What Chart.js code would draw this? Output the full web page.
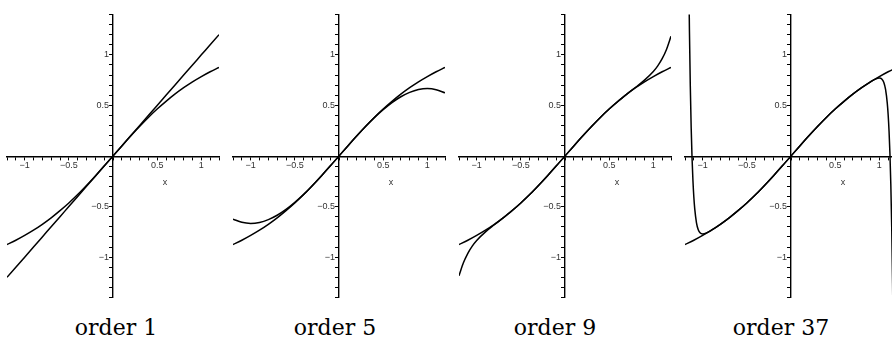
<!DOCTYPE html>
<html>
<head>
<meta charset="utf-8">
<script src="https://cdn.jsdelivr.net/npm/chart.js@4.4.1/dist/chart.umd.min.js"></script>
<style>
  html, body { margin: 0; padding: 0; background: #fff; }
  body { width: 892px; height: 341px; position: relative; overflow: hidden; }
  .panel { position: absolute; top: 8px; width: 214px; height: 296px; }
  .panel canvas { display: block; }
  .title {
    position: absolute; top: 315px; width: 200px; text-align: center;
    font-family: "DejaVu Serif", serif; font-size: 22px; line-height: 26px; color: #000;
  }
</style>
</head>
<body>
<div class="panel" style="left:6px"><canvas id="c1" width="214" height="296"></canvas></div>
<div class="panel" style="left:232px"><canvas id="c2" width="214" height="296"></canvas></div>
<div class="panel" style="left:458px"><canvas id="c3" width="214" height="296"></canvas></div>
<div class="panel" style="left:684px"><canvas id="c4" width="214" height="296"></canvas></div>
<div class="title" style="left:16px">order 1</div>
<div class="title" style="left:235px">order 5</div>
<div class="title" style="left:455px">order 9</div>
<div class="title" style="left:681px">order 37</div>

<script>
// x values shared by the smooth curves
const xGrid = [-1.2, -1.1, -1.0, -0.9, -0.8, -0.7, -0.6, -0.5, -0.4, -0.3, -0.2, -0.1, 0,
  0.1, 0.2, 0.3, 0.4, 0.5, 0.6, 0.7, 0.8, 0.9, 1.0, 1.1, 1.2];

// the function being approximated (same curve in every panel)
const exactY = [-0.876, -0.833, -0.785, -0.733, -0.675, -0.611, -0.540, -0.464, -0.381, -0.291, -0.197, -0.100, 0,
  0.100, 0.197, 0.291, 0.381, 0.464, 0.540, 0.611, 0.675, 0.733, 0.785, 0.833, 0.876];

// order 1 : straight line
const order1Y = [-1.2, -1.1, -1.0, -0.9, -0.8, -0.7, -0.6, -0.5, -0.4, -0.3, -0.2, -0.1, 0,
  0.1, 0.2, 0.3, 0.4, 0.5, 0.6, 0.7, 0.8, 0.9, 1.0, 1.1, 1.2];

// order 5
const order5Y = [-0.624, -0.656, -0.667, -0.657, -0.629, -0.586, -0.528, -0.458, -0.379, -0.291, -0.197, -0.100, 0,
  0.100, 0.197, 0.291, 0.379, 0.458, 0.528, 0.586, 0.629, 0.657, 0.667, 0.656, 0.624];

// order 9
const order9X = [-1.2, -1.15, -1.1, -1.05, -1.0, -0.9, -0.8, -0.7, -0.6, -0.5, -0.4, -0.3, -0.2, -0.1, 0,
  0.1, 0.2, 0.3, 0.4, 0.5, 0.6, 0.7, 0.8, 0.9, 1.0, 1.05, 1.1, 1.15, 1.2];
const order9Y = [-1.183, -1.056, -0.962, -0.891, -0.835, -0.750, -0.680, -0.612, -0.541, -0.464, -0.381, -0.291, -0.197, -0.100, 0,
  0.100, 0.197, 0.291, 0.381, 0.464, 0.541, 0.612, 0.680, 0.750, 0.835, 0.891, 0.962, 1.056, 1.183];

// order 37 (blows up just past |x| = 1)
const order37X = [-1.16, -1.15, -1.14, -1.13, -1.12, -1.11, -1.10, -1.09, -1.07, -1.05, -1.03, -1.0, -0.95, -0.9,
  -0.8, -0.7, -0.6, -0.5, -0.4, -0.3, -0.2, -0.1, 0, 0.1, 0.2, 0.3, 0.4, 0.5, 0.6, 0.7, 0.8,
  0.9, 0.95, 1.0, 1.03, 1.05, 1.07, 1.09, 1.10, 1.11, 1.12, 1.13, 1.14, 1.15, 1.16];
const order37Y = [2.02, 1.256, 0.692, 0.279, -0.024, -0.245, -0.405, -0.520, -0.660, -0.729, -0.760, -0.772, -0.758, -0.733,
  -0.675, -0.611, -0.540, -0.464, -0.381, -0.291, -0.197, -0.100, 0, 0.100, 0.197, 0.291, 0.381, 0.464, 0.540, 0.611, 0.675,
  0.733, 0.758, 0.772, 0.760, 0.729, 0.660, 0.520, 0.405, 0.245, 0.024, -0.279, -0.692, -1.256, -2.02];

const tickFont = { family: '"Liberation Sans", Arial, sans-serif', size: 9 };

const pts = (xs, ys) => xs.map((x, i) => ({ x: x, y: ys[i] }));

// only every 0.5 gets a label, 0 is left blank
const tickLabel = (v) => {
  if (Math.abs(v) < 1e-9) return '';
  if (Math.abs(v * 2 - Math.round(v * 2)) > 1e-6) return '';
  const s = String(Math.abs(Math.round(v * 10) / 10));
  return v < 0 ? '\u2212' + s : s;
};

// the little "x" name under the axis
const axisName = {
  id: 'axisName',
  afterDraw(chart) {
    const { ctx, scales } = chart;
    const px = scales.x.getPixelForValue(0);
    const py = scales.y.getPixelForValue(0);
    ctx.save();
    ctx.font = '9px "Liberation Sans", Arial, sans-serif';
    ctx.fillStyle = '#333';
    ctx.textAlign = 'center';
    ctx.textBaseline = 'middle';
    ctx.fillText('x', px + 52, py + 27);
    ctx.restore();
  }
};

function makePanel(id, approxX, approxY) {
  const line = (data) => ({
    data: data,
    borderColor: '#000',
    borderWidth: 1.5,
    pointRadius: 0,
    fill: false,
    cubicInterpolationMode: 'monotone'
  });

  // ranges are symmetric, so 'center' puts the axes through the origin
  new Chart(document.getElementById(id), {
    type: 'line',
    data: {
      datasets: [
        line(pts(xGrid, exactY)),
        line(pts(approxX, approxY))
      ]
    },
    options: {
      responsive: false,
      animation: false,
      layout: { padding: 0 },
      plugins: { legend: { display: false }, tooltip: { enabled: false } },
      scales: {
        x: {
          type: 'linear',
          min: -1.2,
          max: 1.2,
          position: 'center',
          afterFit: (s) => { s.height = 0; },
          border: { color: '#000', width: 1.4 },
          grid: { drawOnChartArea: false, drawTicks: true, tickLength: 3, color: '#000', tickWidth: 1 },
          ticks: {
            stepSize: 0.1, maxTicksLimit: 100, autoSkip: false, maxRotation: 0,
            padding: 1, font: tickFont, color: '#333', callback: tickLabel
          }
        },
        y: {
          type: 'linear',
          min: -1.4,
          max: 1.4,
          position: 'center',
          afterFit: (s) => { s.width = 0; },
          border: { color: '#000', width: 1.4 },
          grid: { drawOnChartArea: false, drawTicks: true, tickLength: 3, color: '#000', tickWidth: 1 },
          ticks: {
            stepSize: 0.1, maxTicksLimit: 100, autoSkip: false,
            padding: 1, font: tickFont, color: '#333', callback: tickLabel
          }
        }
      }
    },
    plugins: [axisName]
  });
}

makePanel('c1', xGrid, order1Y);
makePanel('c2', xGrid, order5Y);
makePanel('c3', order9X, order9Y);
makePanel('c4', order37X, order37Y);
</script>
</body>
</html>
